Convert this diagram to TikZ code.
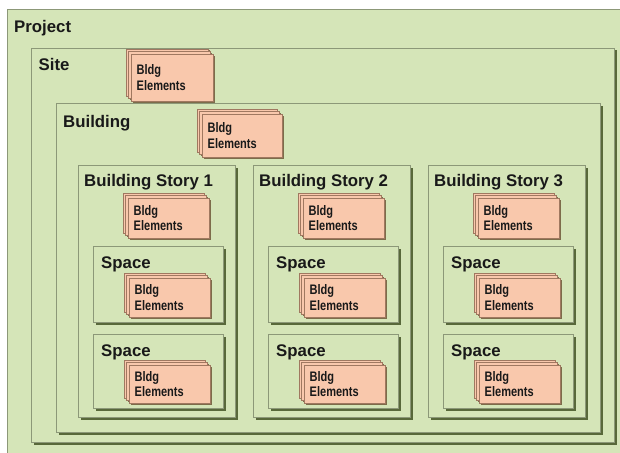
\documentclass[tikz,border=0pt]{standalone}
\usepackage{fontspec}
\setmainfont{Liberation Sans}
\newfontfamily\elfont{Liberation Sans}[FakeStretch=0.8]
\usetikzlibrary{shadows,calc}
\definecolor{greenc}{RGB}{213,229,184}
\definecolor{borderc}{RGB}{140,152,120}
\definecolor{shadowc}{RGB}{88,104,58}
\definecolor{salmonc}{RGB}{249,200,172}
\definecolor{salmonb}{RGB}{160,120,96}
\definecolor{salmons}{RGB}{125,108,74}
\tikzset{
  gbox/.style={draw=borderc, line width=0.7pt, fill=greenc, inner sep=0pt, outer sep=0pt,
    anchor=north west,
    drop shadow={shadow xshift=2.5pt, shadow yshift=-2.5pt, fill=shadowc, opacity=1}},
  sheet/.style={draw=salmonb, line width=0.5pt, fill=salmonc, inner sep=0pt, outer sep=0pt,
    anchor=north west,
    drop shadow={shadow xshift=1.5pt, shadow yshift=-1.5pt, fill=salmons, opacity=1}},
  head/.style={anchor=base west, inner sep=0pt, font=\bfseries\fontsize{16.8}{19}\selectfont, text=black!90},
  eltext/.style={anchor=west, inner sep=0pt, align=left,
    font=\elfont\bfseries\fontsize{13.8}{15.5}\selectfont, text=black!90}
}
\newcommand\bldgstack[5]{%
  \node[sheet, minimum width=#4pt, minimum height=#5pt] (#1c) at (#2-5,#3-5) {};
  \node[sheet, minimum width=#4pt, minimum height=#5pt] (#1b) at (#2-2.5,#3-2.5) {};
  \node[sheet, minimum width=#4pt, minimum height=#5pt] (#1) at (#2,#3) {};
  \node[eltext] (#1t) at ($(#1.west)+(5.5,0)$) {Bldg\\Elements};
}
\begin{document}
\begin{tikzpicture}[x=1pt,y=-1pt]
\clip (0,0) rectangle (620,452);
\fill[white] (0,0) rectangle (620,452);
% project
\node[gbox, minimum width=640pt, minimum height=470pt] (project) at (7,9) {};
\node[head] (projectl) at (14,32.3) {Project};
% site
\node[gbox, minimum width=583pt, minimum height=394pt] (site) at (31,48) {};
\node[head] (sitel) at (38.5,70.7) {Site};
\bldgstack{se}{131}{54}{82}{47}
% building
\node[gbox, minimum width=544pt, minimum height=329pt] (bldg) at (56,103) {};
\node[head] (bldgl) at (63,127.7) {Building};
\bldgstack{be}{202}{114}{80}{43}
% stories
\foreach \i/\sx in {1/78, 2/253, 3/428}{
  \node[gbox, minimum width=157pt, minimum height=252pt] (story\i) at (\sx,165) {};
  \node[head] (story\i l) at (\sx+6,186.7) {Building Story \i};
  \bldgstack{st\i e}{\sx+50}{198}{81}{40}
  \node[gbox, minimum width=130pt, minimum height=76pt] (sp\i a) at (\sx+15,246) {};
  \node[head] (sp\i al) at (\sx+23,268) {Space};
  \bldgstack{sp\i ae}{\sx+51}{278}{81}{39}
  \node[gbox, minimum width=130pt, minimum height=74pt] (sp\i b) at (\sx+15,334) {};
  \node[head] (sp\i bl) at (\sx+23,356) {Space};
  \bldgstack{sp\i be}{\sx+51}{365}{81}{38}
}
\end{tikzpicture}
\end{document}
